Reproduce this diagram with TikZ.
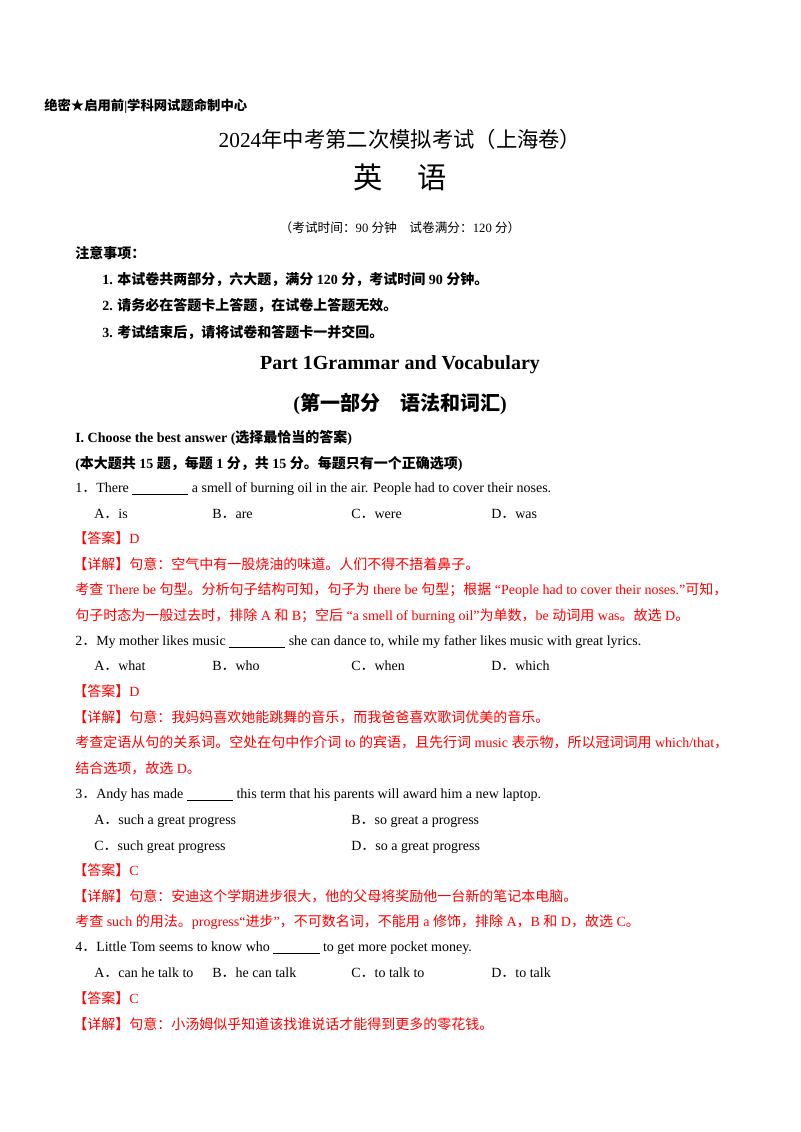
\documentclass[tikz,border=0pt]{standalone}
\usepackage{fontspec}
\setmainfont{Liberation Serif}
\newfontfamily\cjk{Noto Sans CJK SC}
% switch to the CJK family for Chinese characters
\XeTeXinterchartokenstate=1
\newXeTeXintercharclass\cjkclass
\count255="4E00
\loop\XeTeXcharclass\count255=\cjkclass\advance\count255 1 \ifnum\count255<"A000 \repeat
\count255="3000
\loop\XeTeXcharclass\count255=\cjkclass\advance\count255 1 \ifnum\count255<"3040 \repeat
\count255="FF00
\loop\XeTeXcharclass\count255=\cjkclass\advance\count255 1 \ifnum\count255<"FFF0 \repeat
\XeTeXcharclass"2605=\cjkclass
\XeTeXinterchartoks 0 \cjkclass={\begingroup\cjk}
\XeTeXinterchartoks 4095 \cjkclass={\begingroup\cjk}
\XeTeXinterchartoks \cjkclass 0={\endgroup}
\XeTeXinterchartoks \cjkclass 4095={\endgroup}
\definecolor{ansred}{RGB}{255,0,0}
\newcommand{\blank}[1]{\underline{\hspace*{#1}}}

\begin{document}
\begin{tikzpicture}[x=0.75pt,y=0.75pt,
    txt/.style={anchor=base west, inner sep=0pt, font=\fontsize{10.5}{12}\selectfont},
    red/.style={txt, text=ansred},
    head/.style={anchor=base, inner sep=0pt}]
  \useasboundingbox (0,0) rectangle (800,-1132);

  \node[txt, font=\fontsize{10}{12}\bfseries] (top) at (44,-110) {绝密★启用前|学科网试题命制中心};
  \node[head, font=\fontsize{16}{18}\selectfont] (title) at (400,-147) {2024年中考第二次模拟考试（上海卷）};
  \node[head, font=\fontsize{22}{24}\selectfont] (subj) at (400,-188) {英\hspace{1.2em}语};
  \node[head, font=\fontsize{9.5}{11}\selectfont] (time) at (400,-232) {（考试时间：90 分钟\quad 试卷满分：120 分）};

  \node[txt, font=\fontsize{10.5}{12}\bfseries] (note) at (75,-258) {注意事项：};
  \node[txt, font=\fontsize{10.5}{12}\bfseries] (n1) at (102,-284) {1. 本试卷共两部分，六大题，满分 120 分，考试时间 90 分钟。};
  \node[txt, font=\fontsize{10.5}{12}\bfseries] (n2) at (102,-310) {2. 请务必在答题卡上答题，在试卷上答题无效。};
  \node[txt, font=\fontsize{10.5}{12}\bfseries] (n3) at (102,-337) {3. 考试结束后，请将试卷和答题卡一并交回。};

  \node[head, font=\fontsize{15}{17}\bfseries] (part) at (400,-369) {Part 1Grammar and Vocabulary};
  \node[head, font=\fontsize{15}{17}\bfseries] (partcn) at (400,-410) {(第一部分\quad 语法和词汇)};
  \node[txt, font=\fontsize{10.5}{12}\bfseries] (sec) at (75,-442) {I. Choose the best answer (选择最恰当的答案)};
  \node[txt, font=\fontsize{10.5}{12}\bfseries] (secn) at (75,-468) {(本大题共 15 题，每题 1 分，共 15 分。每题只有一个正确选项)};

  % question 1
  \node[txt] (q1) at (75,-492) {1．There \blank{4em} a smell of burning oil in the air. People had to cover their noses.};
  \node[txt] (q1a) at (94,-518) {A．is};
  \node[txt] (q1b) at (212,-518) {B．are};
  \node[txt] (q1c) at (351,-518) {C．were};
  \node[txt] (q1d) at (491,-518) {D．was};
  \node[red] (a1) at (73,-543) {【答案】D};
  \node[red] (e1) at (73,-569) {【详解】句意：空气中有一股烧油的味道。人们不得不捂着鼻子。};
  \node[red] (e1b) at (75,-594) {考查 There be 句型。分析句子结构可知，句子为 there be 句型；根据 “People had to cover their noses.”可知，};
  \node[red] (e1c) at (75,-620) {句子时态为一般过去时，排除 A 和 B；空后 “a smell of burning oil”为单数，be 动词用 was。故选 D。};

  % question 2
  \node[txt] (q2) at (75,-645) {2．My mother likes music \blank{4em} she can dance to, while my father likes music with great lyrics.};
  \node[txt] (q2a) at (94,-670) {A．what};
  \node[txt] (q2b) at (212,-670) {B．who};
  \node[txt] (q2c) at (351,-670) {C．when};
  \node[txt] (q2d) at (491,-670) {D．which};
  \node[red] (a2) at (73,-696) {【答案】D};
  \node[red] (e2) at (73,-722) {【详解】句意：我妈妈喜欢她能跳舞的音乐，而我爸爸喜欢歌词优美的音乐。};
  \node[red] (e2b) at (75,-747) {考查定语从句的关系词。空处在句中作介词 to 的宾语，且先行词 music 表示物，所以冠词词用 which/that，};
  \node[red] (e2c) at (75,-773) {结合选项，故选 D。};

  % question 3
  \node[txt] (q3) at (75,-798) {3．Andy has made \blank{3.3em} this term that his parents will award him a new laptop.};
  \node[txt] (q3a) at (94,-824) {A．such a great progress};
  \node[txt] (q3b) at (351,-824) {B．so great a progress};
  \node[txt] (q3c) at (94,-850) {C．such great progress};
  \node[txt] (q3d) at (351,-850) {D．so a great progress};
  \node[red] (a3) at (73,-875) {【答案】C};
  \node[red] (e3) at (73,-901) {【详解】句意：安迪这个学期进步很大，他的父母将奖励他一台新的笔记本电脑。};
  \node[red] (e3b) at (75,-926) {考查 such 的用法。progress“进步”，不可数名词，不能用 a 修饰，排除 A，B 和 D，故选 C。};

  % question 4
  \node[txt] (q4) at (75,-951) {4．Little Tom seems to know who \blank{3.3em} to get more pocket money.};
  \node[txt] (q4a) at (94,-977) {A．can he talk to};
  \node[txt] (q4b) at (212,-977) {B．he can talk};
  \node[txt] (q4c) at (351,-977) {C．to talk to};
  \node[txt] (q4d) at (491,-977) {D．to talk};
  \node[red] (a4) at (73,-1003) {【答案】C};
  \node[red] (e4) at (73,-1029) {【详解】句意：小汤姆似乎知道该找谁说话才能得到更多的零花钱。};
\end{tikzpicture}
\end{document}
